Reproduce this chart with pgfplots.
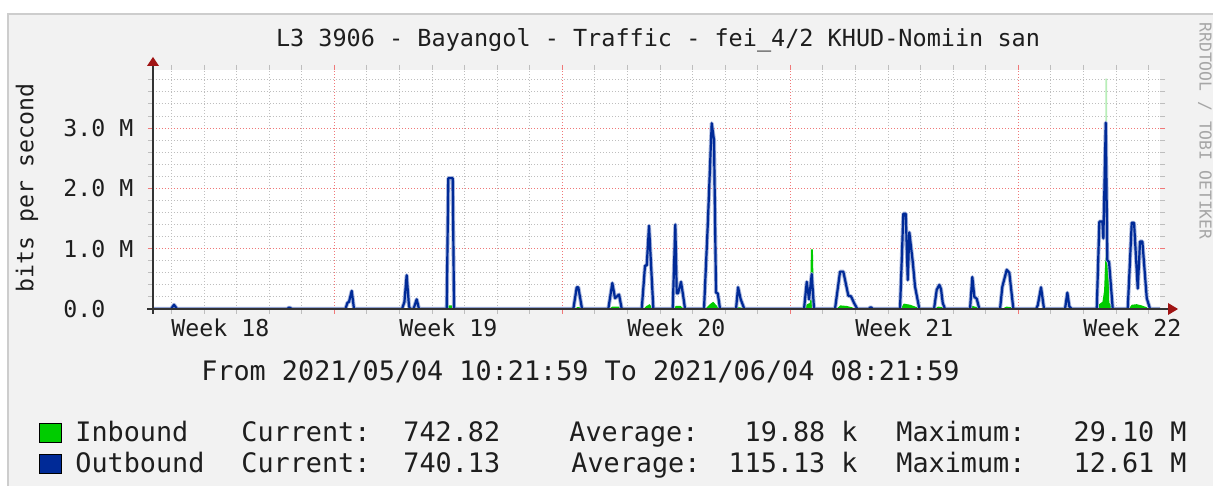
\documentclass[border=0pt]{standalone}
\usepackage{fontspec}
\setmonofont{DejaVu Sans Mono}
\usepackage{pgfplots}
\pgfplotsset{compat=1.18}
\definecolor{bgc}{HTML}{F2F2F2}
\definecolor{framec}{HTML}{CDCDCD}
\definecolor{gridred}{RGB}{240,120,120}
\definecolor{gridgray}{RGB}{190,190,190}
\definecolor{outblue}{HTML}{002A97}
\definecolor{ingreen}{HTML}{00CC00}
\definecolor{palegreen}{HTML}{B8EEB8}
\definecolor{arrowred}{HTML}{A01414}
\definecolor{txt}{HTML}{1E1E1E}
\newcommand\axf{\fontsize{11.6pt}{13pt}\selectfont\ttfamily}
\newcommand\lgf{\fontsize{13.4pt}{15pt}\selectfont\ttfamily}

\pgfplotstableread{
x y
0 0
0.553 0
0.645 0.07
0.737 0
4.114 0
4.185 0.025
4.268 0
5.910 0
5.966 0.10
6.018 0.12
6.101 0.30
6.171 0
7.645 0
7.720 0.12
7.788 0.56
7.859 0.05
7.891 0
7.998 0
8.096 0.16
8.167 0
9.017 0
9.067 2.17
9.202 2.17
9.242 0
12.905 0
13.009 0.36
13.058 0.36
13.172 0
13.979 0
14.102 0.43
14.185 0.18
14.308 0.24
14.391 0
15.005 0
15.106 0.72
15.158 0.72
15.229 1.38
15.361 0
15.956 0
16.036 1.40
16.079 0.26
16.119 0.26
16.211 0.45
16.282 0.20
16.334 0
16.917 0
17.031 1.38
17.153 3.08
17.224 2.80
17.285 0.27
17.338 0.26
17.409 0
17.900 0
17.962 0.36
18.044 0.16
18.155 0
19.988 0
20.071 0.45
20.141 0.16
20.224 0.58
20.295 0
20.939 0
21.093 0.62
21.194 0.62
21.348 0.22
21.431 0.21
21.523 0.10
21.624 0
21.968 0
22.036 0.03
22.106 0
22.935 0
23.037 1.58
23.111 1.58
23.172 0.48
23.221 1.27
23.326 0.78
23.396 0.37
23.528 0
23.979 0
24.062 0.32
24.142 0.40
24.194 0.33
24.246 0.10
24.317 0
25.084 0
25.155 0.53
25.217 0.20
25.290 0.17
25.370 0
26.006 0
26.076 0.37
26.211 0.65
26.291 0.60
26.414 0
27.111 0
27.163 0.06
27.264 0.36
27.356 0
28.001 0
28.072 0.27
28.133 0.04
28.207 0
28.975 0
29.055 1.45
29.147 1.45
29.178 1.17
29.251 3.09
29.300 0.81
29.352 0.78
29.466 0
29.926 0
30.049 1.43
30.120 1.43
30.233 0.34
30.304 1.12
30.375 1.12
30.510 0.18
30.611 0
30.917 0
}\outbound

\pgfplotstableread{
x y
0 0
9.03 0
9.07 0.06
9.20 0.06
9.24 0
12.95 0
13.02 0.03
13.10 0.03
13.15 0
14.00 0
14.10 0.04
14.30 0.04
14.38 0
15.05 0
15.15 0.05
15.25 0.08
15.35 0
15.98 0
16.05 0.05
16.20 0.05
16.30 0
16.95 0
17.10 0.08
17.20 0.12
17.30 0.06
17.38 0
17.92 0
17.98 0.03
18.10 0.02
18.14 0
20.00 0
20.08 0.08
20.17 0.10
20.20 0.99
20.26 0.99
20.29 0.10
20.31 0
20.98 0
21.10 0.06
21.30 0.05
21.45 0.03
21.60 0
22.95 0
23.05 0.09
23.25 0.07
23.45 0.03
23.50 0
24.00 0
24.10 0.04
24.25 0.03
24.30 0
25.10 0
25.16 0.05
25.30 0.03
25.35 0
26.05 0
26.20 0.04
26.35 0.03
26.40 0
28.98 0
29.05 0.08
29.15 0.12
29.20 0.30
29.24 0.85
29.27 0.85
29.33 0.80
29.36 0.10
29.45 0.05
29.47 0
29.95 0
30.05 0.07
30.20 0.08
30.35 0.06
30.50 0.03
30.58 0
30.83 0
30.86 0.02
30.89 0
30.917 0
}\inbound

\pgfplotstableread{
x y
29.225 0
29.240 3.82
29.290 3.82
29.305 0
}\inspike

\begin{document}
\begin{tikzpicture}
\path[use as bounding box] (-76.5pt,-88.5pt) rectangle (530pt,154.5pt);
\fill[white] (-76.5pt,-88.5pt) rectangle (530pt,154.5pt);
\fill[bgc] (-73pt,-88.5pt) rectangle (530pt,148pt);
\draw[framec, line width=1pt] (-72.5pt,-88.5pt) -- (-72.5pt,147.5pt) -- (530pt,147.5pt);
\begin{axis}[
  at={(0,0)}, anchor=south west,
  scale only axis, width=503.5pt, height=119.5pt,
  xmin=0, xmax=30.917, ymin=0, ymax=3.963,
  axis line style={draw=none},
  axis background/.style={fill=white},
  xtick={5.568,12.568,19.568,26.568}, xticklabels={},
  minor xtick={0.568,1.568,2.568,3.568,4.568,6.568,7.568,8.568,9.568,10.568,11.568,13.568,14.568,15.568,16.568,17.568,18.568,20.568,21.568,22.568,23.568,24.568,25.568,27.568,28.568,29.568,30.568},
  ytick={0,1,2,3}, yticklabels={0.0,1.0 M,2.0 M,3.0 M},
  minor ytick={0.2,0.4,0.6,0.8,1.2,1.4,1.6,1.8,2.2,2.4,2.6,2.8,3.2,3.4,3.6,3.8},
  grid=both,
  major grid style={draw=gridred, dash pattern=on 0.6pt off 0.9pt, line width=0.5pt},
  minor grid style={draw=gridgray, dash pattern=on 0.6pt off 0.9pt, line width=0.5pt},
  tick align=outside,
  major tick length=2.5pt, minor tick length=2.5pt,
  major tick style={draw=gridred, line width=0.5pt},
  minor tick style={draw=gridgray, line width=0.5pt},
  extra x ticks={2.068,9.068,16.068,23.068,30.068},
  extra x tick labels={Week 18,Week 19,Week 20,Week 21,Week 22},
  extra x tick style={grid=none, major tick length=0pt,
     xticklabel style={anchor=base, yshift=-13.75pt, inner sep=0pt}},
  tick label style={font=\axf, text=txt},
  yticklabel style={anchor=west, xshift=-42.5pt, inner sep=0pt},
  /pgf/number format/assume math mode=true,
]
\addplot[fill=palegreen, draw=none] table[x=x,y=y] {\inspike} \closedcycle;
\addplot[fill=ingreen, draw=none] table[x=x,y=y] {\inbound} \closedcycle;
\addplot[draw=outblue!35, line width=2pt, line join=round, mark=none] table[x=x,y=y] {\outbound};
\addplot[draw=outblue, line width=1.1pt, line join=round, mark=none] table[x=x,y=y] {\outbound};
\end{axis}
% axis lines and arrows
\draw[black!80, line width=0.6pt] (-3pt,0) -- (507.5pt,0);
\draw[black!80, line width=0.6pt] (0,-2.5pt) -- (0,121.5pt);
\fill[arrowred] (507.5pt,3pt) -- (512.5pt,0) -- (507.5pt,-3pt) -- cycle;
\fill[arrowred] (-3pt,121.5pt) -- (0,126pt) -- (3pt,121.5pt) -- cycle;
% texts
\node[anchor=base, inner sep=0pt, text=txt, font=\fontsize{11.75pt}{13pt}\selectfont\ttfamily] at (252.5pt,131.25pt) {L3 3906 - Bayangol - Traffic - fei\_4/2 KHUD-Nomiin san};
\node[rotate=90, inner sep=0pt, text=txt, font=\axf] at (-63pt,60.5pt) {bits per second};
\node[rotate=-90, inner sep=0pt, text=black!35, font=\fontsize{8.2pt}{9pt}\selectfont\ttfamily] at (526pt,89pt) {RRDTOOL / TOBI OETIKER};
\node[anchor=base, inner sep=0pt, text=txt, font=\lgf] at (213.75pt,-35.5pt) {From 2021/05/04 10:21:59 To 2021/06/04 08:21:59};
% legend
\filldraw[fill=ingreen, draw=black, line width=0.5pt] (-56.5pt,-57pt) rectangle (-45.5pt,-66.5pt);
\filldraw[fill=outblue, draw=black, line width=0.5pt] (-56.5pt,-72.5pt) rectangle (-45.5pt,-82pt);
\begin{scope}[every node/.style={inner sep=0pt, text=txt, font=\lgf}]
\node[anchor=base west] at (-39pt,-66.25pt) {Inbound};
\node[anchor=base west] at (44pt,-66.25pt) {Current:};
\node[anchor=base west] at (125pt,-66.25pt) {742.82};
\node[anchor=base west] at (208pt,-66.25pt) {Average:};
\node[anchor=base east] at (352.5pt,-66.25pt) {19.88 k};
\node[anchor=base west] at (371.5pt,-66.25pt) {Maximum:};
\node[anchor=base east] at (517pt,-66.25pt) {29.10 M};
\node[anchor=base west] at (-39pt,-81.75pt) {Outbound};
\node[anchor=base west] at (44pt,-81.75pt) {Current:};
\node[anchor=base west] at (125pt,-81.75pt) {740.13};
\node[anchor=base west] at (209pt,-81.75pt) {Average:};
\node[anchor=base east] at (352.5pt,-81.75pt) {115.13 k};
\node[anchor=base west] at (371.5pt,-81.75pt) {Maximum:};
\node[anchor=base east] at (517pt,-81.75pt) {12.61 M};
\end{scope}
\end{tikzpicture}
\end{document}
